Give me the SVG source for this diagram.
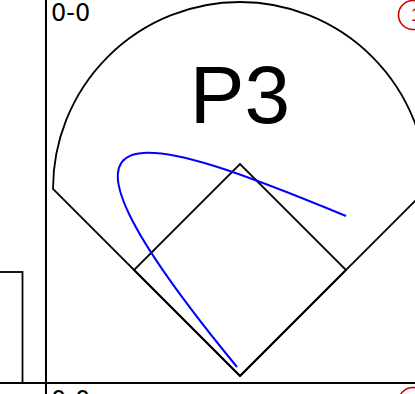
<svg xmlns="http://www.w3.org/2000/svg" width="415" height="394" viewBox="0 0 415 394">
<style>
.grid{stroke:#000;stroke-width:2;fill:none}
.field{stroke:#000;stroke-width:1.8;fill:none}
.score{font-family:"DejaVu Sans",sans-serif;font-size:24px;fill:#000}
.badge circle{fill:none;stroke:#c00;stroke-width:1.6}
.badge text{font-family:"Liberation Sans",sans-serif;font-size:18px;fill:#c00;text-anchor:middle}
</style>
<rect width="415" height="394" fill="#fff"/>
<g id="grid">
<line class="grid" x1="46" y1="0" x2="46" y2="394"/>
<line class="grid" x1="0" y1="383" x2="415" y2="383"/>
<rect class="field" x="-10" y="272" width="32.5" height="111"/>
</g>
<g id="field">
<path class="field" d="M53,189 A187,187 0 0 1 427,189 L240,376 Z"/>
<path class="field" d="M240,376 L346,270 L240,164 L134,270 Z"/>
</g>
<g id="label">
<text x="240" y="123" font-family="Liberation Sans, sans-serif" font-size="82" text-anchor="middle">P3</text>
</g>
<g id="scores">
<text class="score" x="51" y="21">0-0</text>
<text class="score" x="51" y="408">0-0</text>
</g>
<g id="badge-top" class="badge">
<circle cx="413" cy="15" r="14.5"/>
<text x="416" y="21">1</text>
</g>
<g id="badge-bottom" class="badge">
<circle cx="413" cy="402" r="14.5"/>
<text x="416" y="408">1</text>
</g>
<g id="connectors">
<path d="M237,367 C5,85 150,135 346,216" fill="none" stroke="#00f" stroke-width="2"/>
</g>
</svg>
